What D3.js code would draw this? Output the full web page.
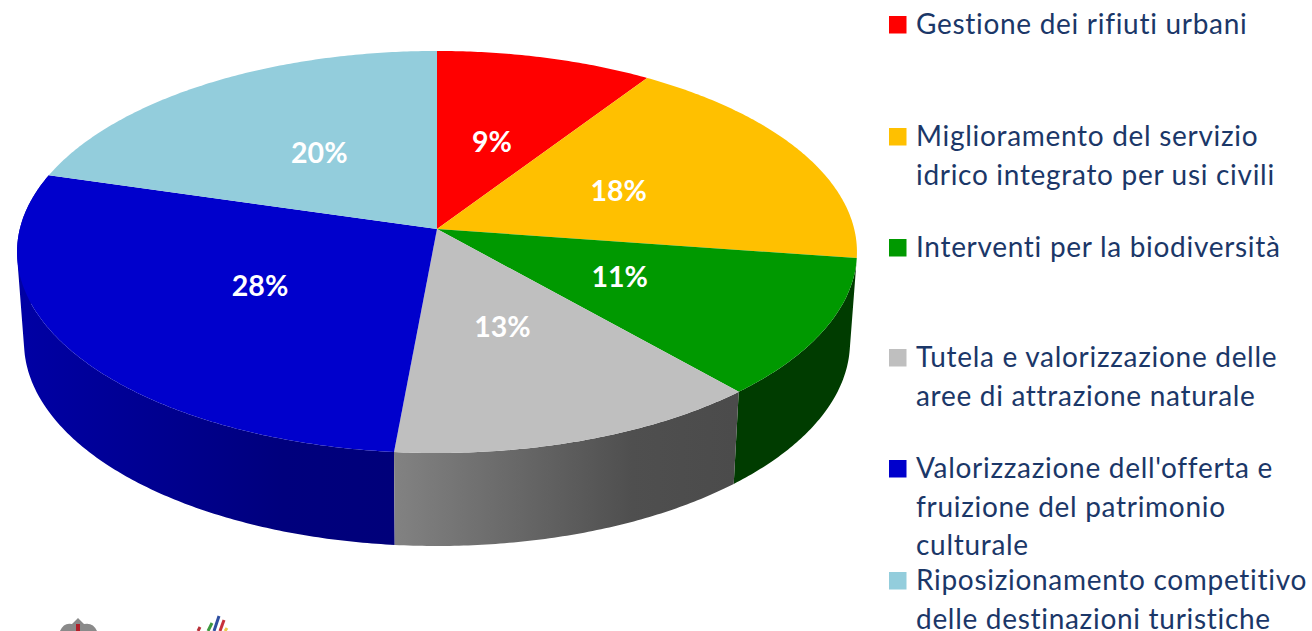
<!DOCTYPE html>
<html>
<head>
<meta charset="utf-8">
<script src="https://cdn.jsdelivr.net/npm/d3@7"></script>
<style>
    html, body { margin: 0; background: #fff; overflow: hidden; }
    svg { display: block; font-family: Lato, "Open Sans", sans-serif; }
</style>
</head>
<body>
<div id="chart"></div>
<script>
// Chart values
const categories = [
    ["Gestione dei rifiuti urbani"],
    ["Miglioramento del servizio", "idrico integrato per usi civili"],
    ["Interventi per la biodiversità"],
    ["Tutela e valorizzazione delle", "aree di attrazione naturale"],
    ["Valorizzazione dell'offerta e", "fruizione del patrimonio", "culturale"],
    ["Riposizionamento competitivo", "delle destinazioni turistiche"]
];
const shares = [9.3, 18.0, 11.2, 12.95, 28.05, 20.49];
const colors = ["#FF0000", "#FFC000", "#009900", "#BFBFBF", "#0000CC", "#93CDDC"];
const wallLeft = ["#990000", "#997300", "#003C00", "#828282", "#0000A4", "#587B84"];
const wallRight = ["#990000", "#997300", "#003C00", "#4B4B4B", "#00007A", "#587B84"];

// Chart sizes
const width = 1312,
    height = 631,
    cx = 437,
    perspective = 0.1144,
    top3d = {y: 229, rx: 417.2, ry: 198.4},
    bottom3d = {y: 318.7, rx: 410.3, ry: 201.3};

// Percent label nudges
const labelDx = [-4, -5, 3, 2, -8, 5];
const labelDy = [2, -2, -2, 2, -2, -2];

// Legend layout
const legendBaselines = [33, 145, 256, 366, 477, 589];
const lineHeight = 38.7;

const svg = d3.select("#chart")
    .append("svg")
    .attr("width", width)
    .attr("height", height)
    .attr("viewBox", [0, 0, width, height]);

const slices = d3.pie().sort(null).value(d => d)(shares);

// Project an angle of the disc to the screen, back of the disc is further away
const project = (angle, plane) => {
    const w = 1 + perspective * Math.cos(angle);
    return [
        cx + plane.rx * Math.sin(angle) / w,
        plane.y - plane.ry * Math.cos(angle) / w
    ];
};

const angleSteps = (a0, a1) => {
    const steps = Math.max(2, Math.ceil((a1 - a0) / 0.01));
    return d3.range(steps + 1).map(i => a0 + (a1 - a0) * i / steps);
};

const line = d3.line().curve(d3.curveLinearClosed);

// Wall gradients
const defs = svg.append("defs");
slices.forEach((d, i) => {
    const xs = [d.startAngle, d.endAngle].map(a => project(a, bottom3d)[0]);
    const grad = defs.append("linearGradient")
        .attr("id", `wall-${i}`)
        .attr("gradientUnits", "userSpaceOnUse")
        .attr("x1", i === 4 ? 22 : d3.min(xs))
        .attr("x2", i === 4 ? 394 : d3.max(xs))
        .attr("y1", 0)
        .attr("y2", 0);
    grad.append("stop").attr("offset", 0).attr("stop-color", wallLeft[i]);
    grad.append("stop").attr("offset", 0.7).attr("stop-color", d3.interpolateRgb(wallLeft[i], wallRight[i])(0.92));
    grad.append("stop").attr("offset", 1).attr("stop-color", wallRight[i]);
});

// Walls of the slices facing us, from the sides to the front
const midAngle = d => (d.startAngle + d.endAngle) / 2;
const order = d3.range(slices.length)
    .filter(i => Math.cos(midAngle(slices[i])) < 0)
    .sort((a, b) => Math.cos(midAngle(slices[b])) - Math.cos(midAngle(slices[a])));

// A wall is one path of small quads, all wound the same way, so the fold at the sides stays filled
const wallPath = d => d3.pairs(angleSteps(d.startAngle, d.endAngle))
    .map(([a0, a1]) => {
        const quad = [project(a0, top3d), project(a1, top3d), project(a1, bottom3d), project(a0, bottom3d)];
        return line(d3.polygonArea(quad) < 0 ? quad.reverse() : quad);
    })
    .join("");

svg.append("g")
    .selectAll("path")
    .data(order)
    .join("path")
    .attr("fill", i => `url(#wall-${i})`)
    .attr("d", i => wallPath(slices[i]));

// Top faces
svg.append("g")
    .selectAll("path")
    .data(slices)
    .join("path")
    .attr("fill", (d, i) => colors[i])
    .attr("d", d => line([[cx, top3d.y]].concat(angleSteps(d.startAngle, d.endAngle).map(a => project(a, top3d)))));

// Percent labels
svg.append("g")
    .selectAll("text")
    .data(slices)
    .join("text")
    .text(d => d3.format(".0%")(d.value / 100))
    .attr("x", (d, i) => cx + labelDx[i] + 0.49 * top3d.rx * Math.sin(midAngle(d)))
    .attr("y", (d, i) => top3d.y + 3 + labelDy[i] - 0.49 * top3d.ry * Math.cos(midAngle(d)))
    .attr("text-anchor", "middle")
    .attr("dominant-baseline", "central")
    .attr("fill", "#fff")
    .attr("font-weight", 700)
    .style("font-size", "28.5px");

// Legend
const legend = svg.append("g")
    .selectAll("g")
    .data(categories)
    .join("g")
    .attr("transform", (d, i) => `translate(889,${legendBaselines[i]})`);

legend.append("rect")
    .attr("y", -17)
    .attr("width", 17.5)
    .attr("height", 17.5)
    .attr("fill", (d, i) => colors[i]);

legend.selectAll("text")
    .data(d => d)
    .join("text")
    .text(d => d)
    .attr("x", 27)
    .attr("y", (d, i) => 1 + i * lineHeight)
    .attr("fill", "#1B3768")
    .style("font-size", "28px")
    .style("letter-spacing", "0.7px");

// Logos cut by the bottom of the picture
const logos = svg.append("g");
logos.append("path")
    .attr("d", "M60,631 Q64,622 72,624 L78,618 L84,624 Q93,622 97,631 Z")
    .attr("fill", "#8a8a8a");
logos.append("rect").attr("x", 76).attr("y", 624).attr("width", 4).attr("height", 7).attr("fill", "#b0202a");
[["#b8323a", 198, 631, 200, 627], ["#3f9a3f", 208, 631, 212, 623], ["#2f4fa0", 214, 631, 219, 616],
 ["#c8303a", 220, 631, 224, 620], ["#e8c94a", 225, 631, 227, 628]].forEach(s => {
    logos.append("line")
        .attr("x1", s[1]).attr("y1", s[2]).attr("x2", s[3]).attr("y2", s[4])
        .attr("stroke", s[0]).attr("stroke-width", 3);
});
</script>
</body>
</html>
